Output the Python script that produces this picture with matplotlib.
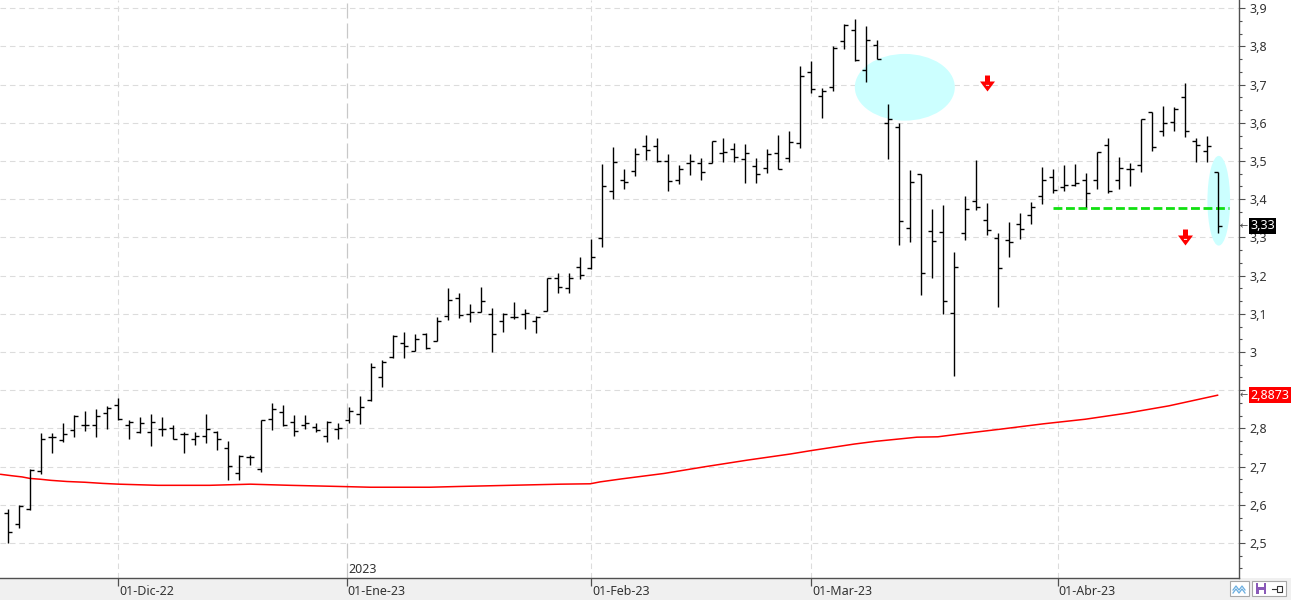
import numpy as np
import matplotlib
matplotlib.use("Agg")
import matplotlib.pyplot as plt
from matplotlib.patches import Ellipse, Rectangle
from matplotlib.path import Path
from matplotlib.ticker import MultipleLocator, FixedLocator, FuncFormatter
from matplotlib.transforms import blended_transform_factory

plt.rcParams['font.family'] = ['Noto Sans', 'DejaVu Sans']

# ---------------- data (daily OHLC bars, bar index 0..110) ----------------
opens = [2.578, 2.551, 2.588, 2.689, 2.777, 2.770, 2.796, 2.809, 2.809, 2.840,
         2.861, 2.809, 2.791, 2.791, 2.798, 2.800, 2.785, 2.772, 2.781, 2.790,
         2.748, 2.682, 2.726, 2.695, 2.824, 2.842, 2.818, 2.809, 2.803, 2.780,
         2.798, 2.822, 2.838, 2.874, 2.935, 2.988, 3.023, 3.003, 3.047, 3.029,
         3.094, 3.141, 3.099, 3.104, 3.099, 3.082, 3.092, 3.099, 3.082, 3.108,
         3.193, 3.167, 3.222, 3.219, 3.299, 3.421, 3.450, 3.474, 3.539, 3.539,
         3.500, 3.450, 3.494, 3.496, 3.496, 3.522, 3.531, 3.504, 3.488, 3.481,
         3.520, 3.507, 3.548, 3.733, 3.670, 3.693, 3.814, 3.844, 3.737, 3.804,
         3.599, 3.588, 3.324, 3.466, 3.317, 3.313, 3.101, 3.311, 3.395, 3.346,
         3.298, 3.293, 3.334, 3.359, 3.408, 3.457, 3.433, 3.436, 3.450, 3.450,
         3.543, 3.450, 3.478, 3.489, 3.629, 3.579, 3.601, 3.667, 3.552, 3.526,
         3.470]
highs = [2.588, 2.599, 2.693, 2.787, 2.787, 2.813, 2.835, 2.846, 2.850, 2.859,
         2.880, 2.822, 2.829, 2.838, 2.829, 2.809, 2.791, 2.790, 2.838, 2.793,
         2.768, 2.730, 2.730, 2.822, 2.866, 2.861, 2.835, 2.835, 2.815, 2.820,
         2.813, 2.857, 2.885, 2.970, 2.979, 3.045, 3.053, 3.046, 3.049, 3.092,
         3.167, 3.154, 3.126, 3.169, 3.114, 3.103, 3.132, 3.112, 3.094, 3.193,
         3.208, 3.206, 3.248, 3.295, 3.492, 3.536, 3.479, 3.533, 3.568, 3.559,
         3.518, 3.490, 3.518, 3.507, 3.553, 3.559, 3.546, 3.545, 3.507, 3.531,
         3.568, 3.579, 3.749, 3.762, 3.690, 3.801, 3.859, 3.872, 3.853, 3.817,
         3.649, 3.599, 3.476, 3.466, 3.374, 3.385, 3.261, 3.408, 3.503, 3.391,
         3.312, 3.341, 3.363, 3.392, 3.484, 3.478, 3.490, 3.492, 3.468, 3.524,
         3.559, 3.510, 3.496, 3.609, 3.629, 3.644, 3.641, 3.703, 3.559, 3.565,
         3.470]
lows = [2.501, 2.538, 2.586, 2.680, 2.735, 2.765, 2.778, 2.794, 2.778, 2.798,
        2.822, 2.772, 2.787, 2.755, 2.781, 2.772, 2.735, 2.757, 2.761, 2.743,
        2.665, 2.665, 2.704, 2.685, 2.796, 2.807, 2.780, 2.798, 2.791, 2.765,
        2.771, 2.813, 2.811, 2.873, 2.909, 2.983, 2.985, 3.003, 3.007, 3.029,
        3.084, 3.088, 3.078, 3.104, 3.001, 3.053, 3.086, 3.059, 3.051, 3.107,
        3.155, 3.154, 3.190, 3.216, 3.276, 3.400, 3.428, 3.462, 3.503, 3.498,
        3.422, 3.439, 3.463, 3.450, 3.494, 3.498, 3.498, 3.443, 3.443, 3.469,
        3.478, 3.498, 3.533, 3.679, 3.613, 3.684, 3.793, 3.763, 3.708, 3.766,
        3.505, 3.280, 3.289, 3.149, 3.195, 3.099, 2.938, 3.293, 3.372, 3.306,
        3.119, 3.249, 3.296, 3.335, 3.387, 3.417, 3.422, 3.435, 3.380, 3.428,
        3.417, 3.426, 3.435, 3.472, 3.527, 3.565, 3.579, 3.563, 3.498, 3.498,
        3.312]
closes = [2.529, 2.597, 2.691, 2.771, 2.778, 2.785, 2.833, 2.809, 2.833, 2.853,
          2.825, 2.818, 2.813, 2.816, 2.798, 2.772, 2.785, 2.781, 2.798, 2.771,
          2.702, 2.728, 2.726, 2.822, 2.851, 2.809, 2.793, 2.813, 2.796, 2.818,
          2.800, 2.845, 2.857, 2.960, 2.975, 3.043, 3.017, 3.033, 3.011, 3.081,
          3.136, 3.097, 3.105, 3.134, 3.046, 3.099, 3.092, 3.103, 3.091, 3.193,
          3.169, 3.193, 3.202, 3.250, 3.435, 3.497, 3.444, 3.518, 3.529, 3.500,
          3.448, 3.478, 3.500, 3.472, 3.553, 3.523, 3.510, 3.520, 3.466, 3.518,
          3.478, 3.551, 3.723, 3.688, 3.683, 3.797, 3.856, 3.764, 3.818, 3.766,
          3.610, 3.343, 3.444, 3.206, 3.291, 3.134, 3.223, 3.374, 3.380, 3.319,
          3.219, 3.287, 3.321, 3.380, 3.450, 3.424, 3.436, 3.443, 3.415, 3.523,
          3.421, 3.481, 3.478, 3.609, 3.537, 3.599, 3.635, 3.579, 3.543, 3.539,
          3.330]

# moving average (red line) read at several bar positions
ma_idx = [-0.75, 0.34, 1.25, 1.97, 2.88, 3.88, 5.34, 6.97, 8.6, 10.06, 13.6, 18.3,
          22.0, 25.6, 30.1, 32.9, 38.3, 41.0, 45.6, 50.2, 52.9, 53.8, 55.8, 59.6,
          63.4, 67.2, 71.1, 73.0, 76.9, 78.8, 82.6, 84.5, 86.4, 90.2, 94.1, 97.9,
          101.7, 105.5, 110.0]
ma_val = [2.680, 2.676, 2.673, 2.669, 2.667, 2.664, 2.661, 2.659, 2.656, 2.654, 2.651, 2.651,
          2.654, 2.651, 2.648, 2.646, 2.646, 2.648, 2.651, 2.654, 2.655, 2.660, 2.668, 2.682,
          2.700, 2.717, 2.733, 2.742, 2.759, 2.766, 2.777, 2.778, 2.785, 2.798, 2.812, 2.824,
          2.840, 2.859, 2.8873]

month_pos = [10, 30.75, 53, 73, 95.4]
month_labels = ["01-Dic-22", "01-Ene-23", "01-Feb-23", "01-Mar-23", "01-Abr-23"]
year_label = "2023"

last_close = 3.33
ma_last = 2.8873
support_level = 3.377
support_span = (95.0, 111.0)
arrow_points = [(89.0, 3.704), (107.0, 3.301)]
ellipses = [((81.5, 3.693), 9.09, 0.1746), ((110.04, 3.396), 2.06, 0.235)]

# ---------------- figure ----------------
W, H = 1291, 600
fig = plt.figure(figsize=(W / 100, H / 100), dpi=100)
fig.patch.set_facecolor('white')
fig.add_artist(Rectangle((0, 0), 1, 22 / H, transform=fig.transFigure,
                         fc='#f0f0f0', ec='none', zorder=-5))

ax = fig.add_axes([0, 22 / H, 1239 / W, 578 / H])
ax.set_facecolor('white')
ax.set_xlim(-0.7545, 111.88)
ax.set_ylim(2.40838, 3.92147)

# grid
for y in np.arange(2.5, 3.95, 0.1):
    ax.axhline(y, color='#dcdcdc', lw=0.8, ls=(0, (5, 3.5)), zorder=0)
for i, p in enumerate(month_pos):
    if i == 1:
        ax.axvline(p, color='#c8c8c8', lw=0.9, ls=(0, (12, 4)), zorder=0)
    else:
        ax.axvline(p, color='#dcdcdc', lw=0.8, ls=(0, (5, 3.5)), zorder=0)

# annotations (ellipses)
for (cx, cy), w, h in ellipses:
    ax.add_patch(Ellipse((cx, cy), w, h, fc='#ccffff', ec='none', zorder=1))

# moving average
ax.plot(ma_idx, ma_val, color='#ff0000', lw=1.1, zorder=2, solid_capstyle='butt')

# support line
ax.plot(list(support_span), [support_level, support_level], color='#11e011',
        lw=2.0, ls=(0, (3.2, 1.3)), zorder=3)

# OHLC bars
idx = np.arange(len(opens))
tick = 0.36
ax.vlines(idx, lows, highs, color='black', lw=1.0, zorder=4)
ax.hlines(opens, idx - tick, idx, color='black', lw=1.0, zorder=4)
ax.hlines(closes, idx, idx + tick, color='black', lw=1.0, zorder=4)

# red down arrows
verts = [(-2.5, 8), (2.5, 8), (2.5, 2), (7.5, 2), (0, -8), (-7.5, 2), (-2.5, 2), (-2.5, 8),
         (-1.6, -1.4), (-1.6, -2.4), (1.6, -2.4), (1.6, -1.4), (-1.6, -1.4)]
codes = [Path.MOVETO] + [Path.LINETO] * 6 + [Path.CLOSEPOLY] + \
        [Path.MOVETO] + [Path.LINETO] * 3 + [Path.CLOSEPOLY]
arrow_marker = Path(verts, codes)
for (ax_i, ax_v) in arrow_points:
    ax.plot([ax_i], [ax_v], marker=arrow_marker, ms=11.5, color='#ff0000',
            mec='none', ls='none', zorder=6)

# axes styling
for s in ['top', 'left']:
    ax.spines[s].set_visible(False)
for s in ['right', 'bottom']:
    ax.spines[s].set_color('#505050')
    ax.spines[s].set_linewidth(1.0)


def price_fmt(v, p):
    # the 2,9 label is hidden behind the moving-average value box
    if abs(v - 2.9) < 1e-6:
        return ''
    return ('%g' % round(v, 2)).replace('.', ',')


ax.yaxis.tick_right()
ax.yaxis.set_major_locator(FixedLocator(np.round(np.arange(2.5, 3.95, 0.1), 2)))
ax.yaxis.set_minor_locator(MultipleLocator(0.1 / 3))
ax.yaxis.set_major_formatter(FuncFormatter(price_fmt))
ax.tick_params(axis='y', which='major', length=4.2, width=0.8, color='#505050',
               labelsize=9, labelcolor='#333333', pad=3.5)
ax.tick_params(axis='y', which='minor', length=2.4, width=0.8, color='#505050')

ax.set_xticks(month_pos)
ax.set_xticklabels([])
ax.tick_params(axis='x', which='major', length=5.5, width=0.9, color='#505050', direction='out')

xb = blended_transform_factory(ax.transData, ax.transAxes)
for p, lab in zip(month_pos, month_labels):
    ax.text(p + 0.08, -0.0225, lab, transform=xb, ha='left', va='center',
            fontsize=9, color='#333333', clip_on=False)
ax.text(month_pos[1] + 0.12, 0.0147, year_label, transform=xb, ha='left', va='center',
        fontsize=9, color='#333333')

# value boxes on the price axis
yb = blended_transform_factory(ax.transAxes, ax.transData)
ax.text(1.0089, last_close, ('%.2f' % last_close).replace('.', ','), transform=yb,
        ha='left', va='center', fontsize=9, color='white', clip_on=False, zorder=10,
        bbox=dict(boxstyle='square,pad=0.12', fc='black', ec='none'))
ax.text(1.0089, ma_last, ('%.4f' % ma_last).replace('.', ','), transform=yb,
        ha='left', va='center', fontsize=9, color='white', clip_on=False, zorder=10,
        bbox=dict(boxstyle='square,pad=0.12', fc='#ff0000', ec='none'))
for v in (last_close, ma_last):
    ax.text(1.0008, v, '\u2190', transform=yb, ha='left', va='center', fontsize=7,
            color='#505050', clip_on=False, zorder=10, family='DejaVu Sans')

# small toolbar buttons (bottom right)
def figrect(x0, y0, x1, y1, **kw):
    fig.add_artist(Rectangle((x0 / W, 1 - y1 / H), (x1 - x0) / W, (y1 - y0) / H,
                             transform=fig.transFigure, **kw))

figrect(1230, 581, 1249, 596, fc='white', ec='#a8a8a8', lw=0.8)
figrect(1252, 581, 1286, 596, fc='white', ec='#a8a8a8', lw=0.8)
figrect(1256, 583, 1266, 594, fc='#8a5ab8', ec='none')
figrect(1258, 583, 1264, 587, fc='white', ec='none')
figrect(1258.5, 590, 1263.5, 594, fc='white', ec='none')
zx = np.array([1233, 1236, 1239, 1242, 1245]) / W
fig.add_artist(plt.Line2D(zx, 1 - np.array([590, 586, 590, 586, 590]) / H,
                          transform=fig.transFigure, color='#6aaee0', lw=0.9))
fig.add_artist(plt.Line2D(zx, 1 - np.array([593, 589, 593, 589, 593]) / H,
                          transform=fig.transFigure, color='#6aaee0', lw=0.9))
fig.add_artist(plt.Line2D(np.array([1272, 1277]) / W, 1 - np.array([589, 589]) / H,
                          transform=fig.transFigure, color='#333333', lw=0.8))
figrect(1277, 586, 1282, 592, fc='white', ec='#333333', lw=0.8)

fig.savefig('out.png', dpi=100)
